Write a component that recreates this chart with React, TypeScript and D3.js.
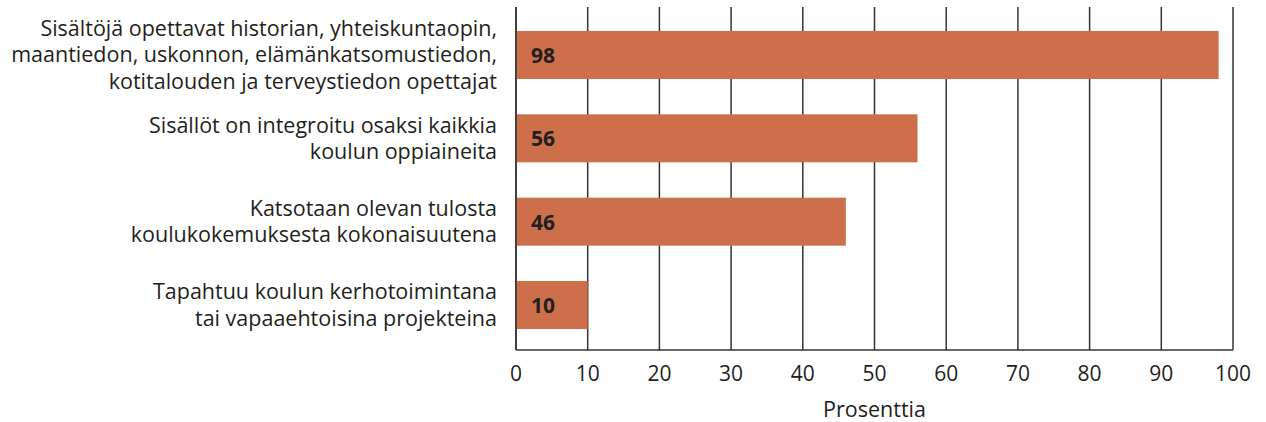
import React from "react";
import * as d3 from "d3";

const categories: string[][] = [
  ["Sisältöjä opettavat historian, yhteiskuntaopin,", "maantiedon, uskonnon, elämänkatsomustiedon,", "kotitalouden ja terveystiedon opettajat"],
  ["Sisällöt on integroitu osaksi kaikkia", "koulun oppiaineita"],
  ["Katsotaan olevan tulosta", "koulukokemuksesta kokonaisuutena"],
  ["Tapahtuu koulun kerhotoimintana", "tai vapaaehtoisina projekteina"],
];
const values: number[] = [98, 56, 46, 10];
const ticks: number[] = [0, 10, 20, 30, 40, 50, 60, 70, 80, 90, 100];
const axisTitle = "Prosenttia";

const W = 1266;
const H = 422;
const FONT = "'Open Sans', sans-serif";
const TEXT = "#231f20";
const BAR = "#cd6f4a";

export default function App() {
  const x = d3.scaleLinear().domain([0, 100]).range([516, 1233]);
  const y = d3
    .scaleBand<number>()
    .domain(d3.range(categories.length))
    .range([13.3, 346.7])
    .paddingInner(0.424)
    .paddingOuter(0.212);
  const top = 7;
  const bottom = 350;
  const lh = 26.5;
  return (
    <svg width={W} height={H} style={{ position: "absolute", left: 0, top: 0 }} fontFamily={FONT}>
      {ticks.map((t) => (
        <line key={"g" + t} x1={x(t)} x2={x(t)} y1={top} y2={bottom} stroke="#333" strokeWidth={1.5} />
      ))}
      {values.map((v, i) => (
        <rect key={"b" + i} x={x(0)} y={y(i)} width={x(v) - x(0)} height={y.bandwidth()} fill={BAR} />
      ))}
      <line x1={x(0)} x2={x(100)} y1={bottom} y2={bottom} stroke="#333" strokeWidth={1.5} />
      <line x1={x(0)} x2={x(0)} y1={top} y2={bottom} stroke="#333" strokeWidth={1.5} />
      {values.map((v, i) => (
        <text key={"v" + i} x={x(0) + 15} y={y(i)! + y.bandwidth() / 2 + 8} fontSize={21} fontWeight="bold" fill={TEXT}>
          {v}
        </text>
      ))}
      {categories.map((lines, i) => {
        const cy = y(i)! + y.bandwidth() / 2;
        const first = cy - ((lines.length - 1) * lh) / 2 + 7.5;
        return (
          <text key={"c" + i} textAnchor="end" fontSize={21.5} fill={TEXT}>
            {lines.map((l, j) => (
              <tspan key={j} x={497} y={first + j * lh}>
                {l}
              </tspan>
            ))}
          </text>
        );
      })}
      {ticks.map((t) => (
        <text key={"t" + t} x={x(t)} y={381} textAnchor="middle" fontSize={21} fill={TEXT}>
          {t}
        </text>
      ))}
      <text x={x(50)} y={416.5} textAnchor="middle" fontSize={21.5} fill={TEXT}>
        {axisTitle}
      </text>
    </svg>
  );
}
